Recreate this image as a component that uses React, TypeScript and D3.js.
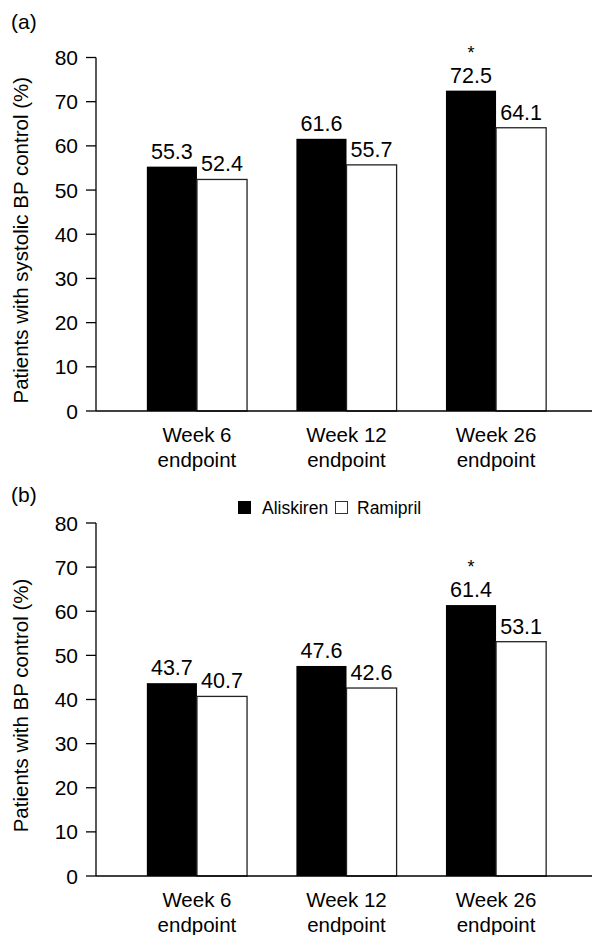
import React from "react";
import * as d3 from "d3";

const categories = ["Week 6|endpoint", "Week 12|endpoint", "Week 26|endpoint"];
const seriesNames = ["Aliskiren", "Ramipril"];
const systolicAliskiren = [55.3, 61.6, 72.5];
const systolicRamipril = [52.4, 55.7, 64.1];
const bpAliskiren = [43.7, 47.6, 61.4];
const bpRamipril = [40.7, 42.6, 53.1];
const significant = [false, false, true];
const yTicks = [0, 10, 20, 30, 40, 50, 60, 70, 80];

const FONT = "Liberation Sans, Arial, Helvetica, sans-serif";

type PanelProps = {
  tag: string;
  tagY: number;
  title: string;
  top: number;
  bottom: number;
  a: number[];
  r: number[];
};

function Panel({ tag, tagY, title, top, bottom, a, r }: PanelProps) {
  const x0 = d3.scaleBand<string>().domain(categories).range([96, 597]).paddingInner(0.33).paddingOuter(0.34);
  const x1 = d3.scaleBand<string>().domain(seriesNames).range([0, x0.bandwidth()]).padding(0);
  const y = d3.scaleLinear().domain([0, 80]).range([bottom, top]);
  const axisX = 96;
  return (
    <g>
      <text x={11} y={tagY} fontSize={21} fontFamily={FONT}>{tag}</text>
      <text
        transform={`translate(28, ${(top + bottom) / 2 + 6}) rotate(-90)`}
        textAnchor="middle"
        fontSize={20.5}
        fontFamily={FONT}
      >
        {title}
      </text>
      {/* y axis */}
      <line x1={axisX} x2={axisX} y1={y(80)} y2={y(0)} stroke="#000" strokeWidth={1.3} />
      {yTicks.map((t) => (
        <g key={t}>
          <line x1={axisX - 10} x2={axisX} y1={y(t)} y2={y(t)} stroke="#000" strokeWidth={1.3} />
          <text x={78} y={y(t)} dy="0.36em" textAnchor="end" fontSize={21} fontFamily={FONT}>
            {t}
          </text>
        </g>
      ))}
      {/* bars */}
      {categories.map((c, i) => {
        const gx = x0(c)!;
        const bw = x1.bandwidth();
        const xa = gx + x1("Aliskiren")!;
        const xr = gx + x1("Ramipril")!;
        return (
          <g key={c}>
            <rect x={xa} y={y(a[i])} width={bw} height={y(0) - y(a[i])} fill="#000" />
            <rect x={xr} y={y(r[i])} width={bw} height={y(0) - y(r[i])} fill="#fff" stroke="#222" strokeWidth={1.3} />
            <text x={xa + bw / 2} y={y(a[i]) - 8} textAnchor="middle" fontSize={21.5} fontFamily={FONT}>
              {a[i].toFixed(1)}
            </text>
            <text x={xr + bw / 2} y={y(r[i]) - 8} textAnchor="middle" fontSize={21.5} fontFamily={FONT}>
              {r[i].toFixed(1)}
            </text>
            {significant[i] && (
              <text x={xa + bw / 2} y={y(a[i]) - 32} textAnchor="middle" fontSize={18} fontFamily={FONT}>
                *
              </text>
            )}
            {c.split("|").map((line, k) => (
              <text
                key={k}
                x={gx + x0.bandwidth() / 2}
                y={y(0) + 31 + k * 24.5}
                textAnchor="middle"
                fontSize={20.5}
                fontFamily={FONT}
              >
                {line}
              </text>
            ))}
          </g>
        );
      })}
      {/* x axis */}
      <line x1={axisX} x2={592} y1={y(0)} y2={y(0)} stroke="#000" strokeWidth={1.5} />
    </g>
  );
}

export default function App() {
  return (
    <svg
      width={592}
      height={935}
      style={{ position: "absolute", left: 0, top: 0, background: "#fff" }}
    >
      <rect x={0} y={0} width={592} height={935} fill="#fff" />
      <Panel
        tag="(a)"
        tagY={29}
        title="Patients with systolic BP control (%)"
        top={57.5}
        bottom={411}
        a={systolicAliskiren}
        r={systolicRamipril}
      />
      <Panel
        tag="(b)"
        tagY={502}
        title="Patients with BP control (%)"
        top={523}
        bottom={876}
        a={bpAliskiren}
        r={bpRamipril}
      />
      {/* legend */}
      <g fontFamily={FONT} fontSize={17.5}>
        <rect x={238} y={501} width={13} height={13} fill="#000" />
        <text x={262} y={514}>{seriesNames[0]}</text>
        <rect x={335.5} y={501.5} width={12} height={12} fill="#fff" stroke="#333" strokeWidth={1} />
        <text x={357} y={514}>{seriesNames[1]}</text>
      </g>
    </svg>
  );
}
